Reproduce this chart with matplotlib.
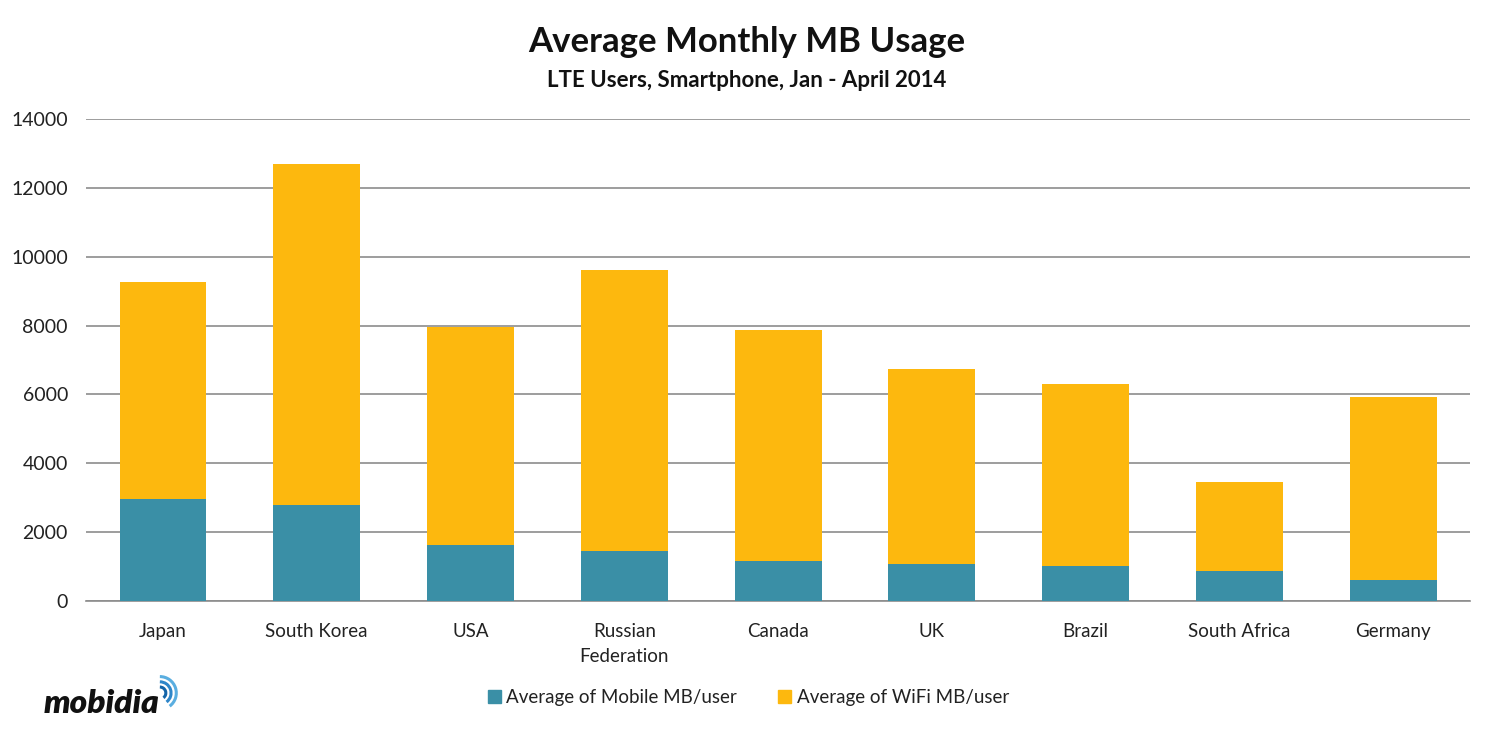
import matplotlib.pyplot as plt
import numpy as np
from matplotlib.patches import Arc, Patch

countries = ["Japan", "South Korea", "USA", "Russian\nFederation", "Canada",
             "UK", "Brazil", "South Africa", "Germany"]
mobile = [2950, 2800, 1640, 1460, 1170, 1080, 1020, 880, 620]
totals = [9280, 12700, 7970, 9600, 7880, 6750, 6310, 3470, 5940]
wifi = [t - m for t, m in zip(totals, mobile)]

TEAL = "#3A8FA6"
GOLD = "#FDB80E"
GRID = "#8C8C8C"

plt.rcParams["font.family"] = ["Lato", "DejaVu Sans"]

fig = plt.figure(figsize=(14.94, 7.31), dpi=100)
ax = fig.add_axes([0.0576, 0.1778, 0.9264, 0.6594])

x = np.arange(len(countries))
ax.bar(x, mobile, width=0.565, color=TEAL, zorder=3)
ax.bar(x, wifi, width=0.565, bottom=mobile, color=GOLD, zorder=3)

ax.set_xlim(-0.5, len(countries) - 0.5)
ax.set_ylim(0, 14000)
ax.set_yticks(range(0, 14001, 2000))
ax.yaxis.grid(True, color=GRID, linewidth=1.2, zorder=0)
ax.set_xticks(x)
ax.set_xticklabels(countries, fontsize=13.5, color="#222222", linespacing=1.55)
ax.tick_params(axis="y", labelsize=14, labelcolor="#222222", length=0, pad=13)
ax.tick_params(axis="x", length=0, pad=16)
for side in ("top", "right", "left"):
    ax.spines[side].set_visible(False)
ax.spines["bottom"].set_color(GRID)
ax.spines["bottom"].set_linewidth(1.2)

fig.text(0.5, 0.942, "Average Monthly MB Usage", ha="center", va="center",
         fontsize=25, fontweight="bold", color="#111111")
fig.text(0.5, 0.890, "LTE Users, Smartphone, Jan - April 2014", ha="center",
         va="center", fontsize=16, fontweight="bold", color="#111111")

handles = [Patch(color=TEAL, label="Average of Mobile MB/user"),
           Patch(color=GOLD, label="Average of WiFi MB/user")]
fig.legend(handles=handles, loc="center", bbox_to_anchor=(0.501, 0.046),
           ncol=2, frameon=False, fontsize=13.5, handlelength=0.7,
           handleheight=0.7, handletextpad=0.3, columnspacing=2.2,
           labelcolor="#222222")

# mobidia logo
fig.text(0.029, 0.025, "mobidia", fontsize=24, fontweight="heavy",
         fontstyle="italic", color="#111111", ha="left", va="baseline")
for i, r in enumerate([0.008, 0.015, 0.022]):
    fig.add_artist(Arc((0.107, 0.052), r, r * 2.04, theta1=-70, theta2=90,
                       transform=fig.transFigure,
                       color=["#1565A8", "#2E86C9", "#5AAEE0"][i], linewidth=2.2))

fig.savefig("out.png", dpi=100)
